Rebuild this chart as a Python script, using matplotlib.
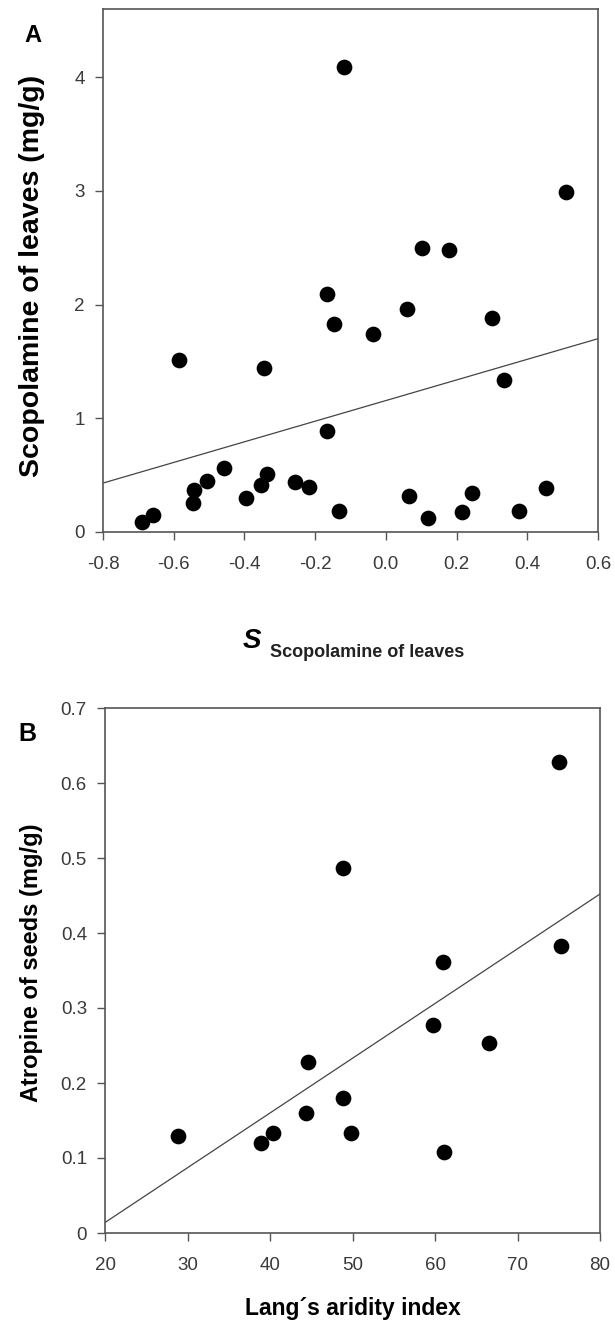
import matplotlib
matplotlib.use("Agg")
import matplotlib.pyplot as plt
import numpy as np

plt.rcParams['font.family'] = ['Liberation Sans', 'DejaVu Sans']

# Panel A data
a_x = [-0.118, 0.509, 0.101, 0.178, -0.167, -0.584, -0.344, -0.457, -0.505, -0.542,
       -0.546, -0.659, -0.690, -0.395, -0.337, -0.353, -0.257, -0.216, -0.133, -0.166,
       -0.146, -0.037, 0.061, 0.301, 0.334, 0.065, 0.120, 0.216, 0.243, 0.376, 0.452]
a_y = [4.09, 2.99, 2.50, 2.48, 2.09, 1.51, 1.44, 0.563, 0.447, 0.368,
       0.251, 0.149, 0.090, 0.295, 0.514, 0.41, 0.44, 0.395, 0.187, 0.887,
       1.83, 1.745, 1.96, 1.885, 1.34, 0.315, 0.125, 0.172, 0.344, 0.187, 0.388]
a_fit = (0.907, 1.156)  # slope, intercept
a_xticks = [-0.8, -0.6, -0.4, -0.2, 0.0, 0.2, 0.4, 0.6]
a_xticklabels = ['-0.8', '-0.6', '-0.4', '-0.2', '0.0', '0.2', '0.4', '0.6']
a_yticks = [0, 1, 2, 3, 4]

# Panel B data
b_x = [28.8, 38.9, 40.4, 44.4, 44.6, 48.9, 49.8, 59.8, 66.5, 61.1, 75.0, 48.9, 61.0, 75.3]
b_y = [0.130, 0.120, 0.133, 0.160, 0.228, 0.180, 0.134, 0.277, 0.254, 0.108, 0.628, 0.487, 0.362, 0.383]
b_fit = (0.0073, -0.132)
b_xticks = [20, 30, 40, 50, 60, 70, 80]
b_yticks = [0, 0.1, 0.2, 0.3, 0.4, 0.5, 0.6, 0.7]
b_yticklabels = ['0', '0.1', '0.2', '0.3', '0.4', '0.5', '0.6', '0.7']

fig = plt.figure(figsize=(6.15, 13.23), dpi=100)
axA = fig.add_axes([103/615, 1-532/1323, 495/615, 523/1323])
axB = fig.add_axes([105/615, 1-1233/1323, 495/615, 525/1323])

spine_c = '#555555'
tick_c = '#3a3a3a'

def style(ax):
    for s in ax.spines.values():
        s.set_color(spine_c)
        s.set_linewidth(1.2)
    ax.tick_params(direction='out', length=6, width=1.0, color=spine_c,
                   labelsize=13.5, labelcolor=tick_c)
    ax.tick_params(axis='x', pad=11)
    ax.tick_params(axis='y', pad=7)

# Panel A
axA.scatter(a_x, a_y, s=128, c='black', zorder=3, linewidths=0)
xl = np.array([-0.8, 0.6])
axA.plot(xl, a_fit[0]*xl + a_fit[1], color='#444444', lw=0.9)
axA.set_xlim(-0.8, 0.6)
axA.set_ylim(0, 4.6)
axA.set_xticks(a_xticks)
axA.set_xticklabels(a_xticklabels)
axA.set_yticks(a_yticks)
axA.set_ylabel('Scopolamine of leaves (mg/g)', fontsize=20.5, fontweight='bold')
axA.yaxis.set_label_coords((45-103)/495, 0.49)
style(axA)

# Panel B
axB.scatter(b_x, b_y, s=128, c='black', zorder=3, linewidths=0)
xl = np.array([20, 80])
axB.plot(xl, b_fit[0]*xl + b_fit[1], color='#444444', lw=0.9)
axB.set_xlim(20, 80)
axB.set_ylim(0, 0.7)
axB.set_xticks(b_xticks)
axB.set_yticks(b_yticks)
axB.set_yticklabels(b_yticklabels)
axB.set_ylabel('Atropine of seeds (mg/g)', fontsize=17, fontweight='bold')
axB.yaxis.set_label_coords((43-105)/495, 0.515)
axB.set_xlabel('Lang\u00b4s aridity index', fontsize=16.5, fontweight='bold')
axB.xaxis.set_label_coords(0.5, (1233-1297)/525)
style(axB)

fig.text(33/615, 1-35/1323, 'A', fontsize=17, fontweight='bold', ha='center', va='center')
fig.text(27/615, 1-734/1323, 'B', fontsize=18, fontweight='bold', ha='center', va='center')

fig.text(252/615, 1-648/1323, 'S', fontsize=20, fontweight='bold', fontstyle='italic',
         ha='center', va='baseline')
fig.text(270/615, 1-657/1323, 'Scopolamine of leaves', fontsize=13, fontweight='bold',
         ha='left', va='baseline', color='#222222')

fig.savefig('out.png', dpi=100)
